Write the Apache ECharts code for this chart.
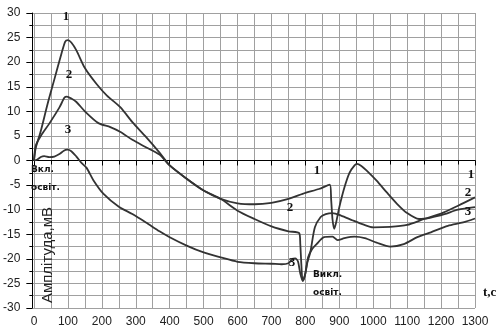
<!DOCTYPE html>
<html>
<head>
<meta charset="utf-8">
<script src="https://cdn.jsdelivr.net/npm/echarts@6/dist/echarts.min.js"></script>
<style>
  html, body { margin: 0; padding: 0; background: #fff; }
  #chart { width: 504px; height: 332px; }
</style>
</head>
<body>
<div id="chart"></div>
<script>
// Time axis (s) and amplitude axis (mV): [min, max, label step]
const xTicks = [0, 1300, 100];
const yTicks = [-30, 30, 5];

// Curve 1: [t, mV]
const curve1 = [
  [0, 0], [5, 2.5], [20, 6], [40, 11.5], [60, 16.5], [80, 21.5], [92, 24.2], [100, 24.5],
  [110, 24], [125, 22.4], [150, 18.8], [185, 15.5], [215, 13.2], [255, 10.8], [290, 7.8],
  [330, 4.8], [370, 1.6], [400, -1.0], [450, -3.7], [500, -6.1], [550, -7.8], [600, -8.7],
  [650, -8.9], [700, -8.6], [750, -7.8], [800, -6.6], [840, -5.8], [872, -4.9], [876, -8],
  [880, -12], [885, -13.9], [891, -12.5], [900, -9.5], [915, -5.5], [930, -2.5], [945, -1.0],
  [952, -0.7], [965, -1.1], [980, -2.0], [1010, -4.1], [1040, -6.5], [1070, -8.8],
  [1100, -10.7], [1135, -11.9], [1170, -11.6], [1210, -10.9], [1250, -10.0], [1300, -9.5]
];

// Curve 2: [t, mV]
const curve2 = [
  [0, 0], [5, 3], [20, 5], [45, 7.5], [75, 10.8], [90, 12.8], [97, 13.0], [110, 12.6],
  [125, 11.9], [150, 10.0], [190, 7.6], [225, 6.8], [255, 5.8], [290, 4.2], [330, 2.7],
  [370, 1.2], [400, -1.0], [450, -3.7], [500, -6.1], [550, -7.8], [600, -10.2], [650, -11.9],
  [700, -13.4], [750, -14.4], [782, -14.8], [785, -17], [788, -21], [792, -24.5], [798, -23.5],
  [805, -21], [815, -18.5], [828, -13.6], [845, -11.5], [860, -10.9], [880, -10.7],
  [905, -11.2], [940, -12.2], [970, -13.0], [1000, -13.6], [1050, -13.5], [1100, -13.1],
  [1150, -11.9], [1200, -10.8], [1250, -9.2], [1300, -7.5]
];

// Curve 3: [t, mV]
const curve3 = [
  [0, 0], [10, 0.2], [20, 0.7], [30, 0.9], [45, 0.7], [60, 0.8], [75, 1.3], [88, 2.0],
  [98, 2.2], [110, 1.9], [125, 0.8], [140, -0.5], [155, -1.5], [175, -4.0], [205, -6.8],
  [250, -9.4], [290, -10.9], [330, -12.6], [370, -14.4], [400, -15.6], [450, -17.3],
  [500, -18.7], [550, -19.7], [600, -20.6], [650, -20.9], [700, -21.0], [730, -21.1],
  [750, -20.9], [762, -20.0], [770, -19.9], [778, -20.5], [785, -23], [792, -24.5],
  [800, -23], [808, -19.7], [820, -18], [833, -17.0], [855, -15.6], [880, -15.5],
  [895, -16.2], [915, -15.8], [945, -15.5], [975, -15.8], [1010, -16.7], [1050, -17.5],
  [1090, -17.0], [1130, -15.6], [1170, -14.6], [1220, -13.3], [1265, -12.6], [1300, -11.8]
];

const curveNames = ['1', '2', '3'];
const yAxisTitle = 'Амплітуда,мВ';
const xAxisTitle = 't,c';
const lightOn = ['Вкл.', 'освіт.'];
const lightOff = ['Викл.', 'освіт.'];

const gridColor = '#a0a0a0';
const lineColor = '#333';
const numFont = 'Liberation Sans';
const serif = 'Liberation Serif';

const chart = echarts.init(document.getElementById('chart'));

function seriesOf(name, data) {
  return {
    name: name, type: 'line', xAxisIndex: 1, yAxisIndex: 1, data: data,
    showSymbol: false, smooth: 0.25,
    lineStyle: { color: lineColor, width: 1.8 }, z: 5
  };
}

function curveLabel(text, x, y) {
  return {
    type: 'text', x: x, y: y, z: 10,
    style: { text: text, font: 'bold 13px "' + serif + '"', fill: '#111',
             textAlign: 'center', textVerticalAlign: 'middle' }
  };
}

function noteLabel(text, x, y) {
  return {
    type: 'text', x: x, y: y, z: 10,
    style: { text: text, font: 'bold 9px "DejaVu Sans"', fill: '#111',
             textAlign: 'left', textVerticalAlign: 'middle' }
  };
}

const plain = v => String(v);

chart.setOption({
  animation: false,
  grid: [
    { left: 28, right: 29, top: 13, bottom: 24 },
    { left: 34, right: 29, top: 13, bottom: 24 }
  ],
  xAxis: [
    {
      gridIndex: 0, type: 'value', min: 0, max: 1,
      axisLine: { show: true, lineStyle: { color: '#000' } },
      axisTick: { show: false }, axisLabel: { show: false },
      splitLine: { show: false }
    },
    {
      gridIndex: 1, type: 'value', min: xTicks[0], max: xTicks[1], interval: xTicks[2],
      axisLine: { show: true, lineStyle: { color: '#000' } },
      axisTick: { show: true, length: 5, lineStyle: { color: '#000' } },
      minorTick: { show: true, splitNumber: 2, length: 4, lineStyle: { color: '#000' } },
      splitLine: { show: true, lineStyle: { color: gridColor } },
      minorSplitLine: { show: true, lineStyle: { color: gridColor } },
      axisLabel: { color: '#222', fontFamily: numFont, fontSize: 12, margin: 8, formatter: plain }
    }
  ],
  yAxis: [
    {
      gridIndex: 0, type: 'value', min: yTicks[0], max: yTicks[1], interval: yTicks[2],
      axisLine: { show: true, lineStyle: { color: '#000' } },
      axisTick: { show: true, length: 6, lineStyle: { color: '#000' } },
      minorTick: { show: true, splitNumber: 2, length: 3, lineStyle: { color: '#000' } },
      splitLine: { show: true, lineStyle: { color: gridColor } },
      minorSplitLine: { show: true, lineStyle: { color: gridColor } },
      axisLabel: { color: '#222', fontFamily: numFont, fontSize: 12, margin: 12, formatter: plain }
    },
    {
      gridIndex: 1, type: 'value', min: yTicks[0], max: yTicks[1], show: false
    }
  ],
  series: [
    seriesOf(curveNames[0], curve1),
    seriesOf(curveNames[1], curve2),
    seriesOf(curveNames[2], curve3)
  ],
  graphic: [
    curveLabel(curveNames[0], 66, 17),
    curveLabel(curveNames[1], 69, 75),
    curveLabel(curveNames[2], 68, 130),
    curveLabel(curveNames[0], 317, 171),
    curveLabel(curveNames[1], 290, 208),
    curveLabel(curveNames[2], 292, 263),
    curveLabel(curveNames[0], 471, 175),
    curveLabel(curveNames[1], 468, 193),
    curveLabel(curveNames[2], 468, 212),
    noteLabel(lightOn[0], 31, 170),
    noteLabel(lightOn[1], 31, 188),
    noteLabel(lightOff[0], 313, 275),
    noteLabel(lightOff[1], 313, 293),
    {
      type: 'text', x: 483, y: 293, z: 10,
      style: { text: xAxisTitle, font: 'bold 13px "' + serif + '"', fill: '#111',
               textAlign: 'left', textVerticalAlign: 'middle' }
    },
    {
      type: 'text', x: 48, y: 255, rotation: Math.PI / 2, z: 10,
      style: { text: yAxisTitle, font: '15px "Liberation Sans"', fill: '#222',
               textAlign: 'center', textVerticalAlign: 'middle' }
    }
  ]
});
</script>
</body>
</html>
